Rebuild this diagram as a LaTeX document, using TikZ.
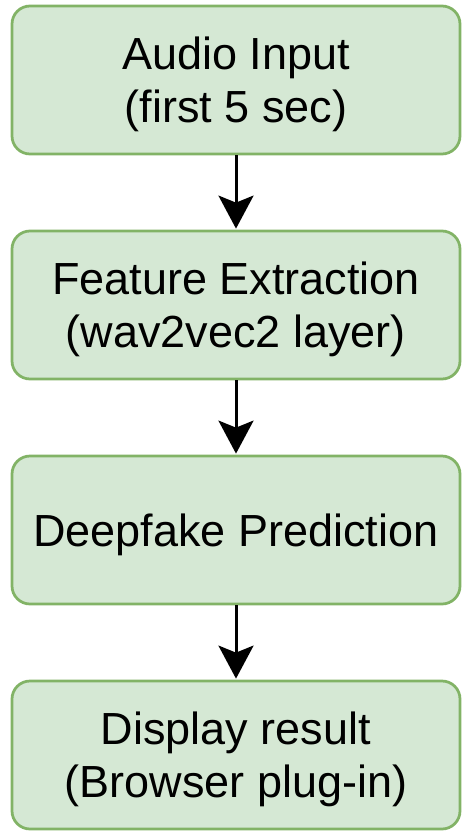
\documentclass[tikz,border=0pt]{standalone}
\usepackage{fontspec}
\setmainfont{Liberation Sans}
\usetikzlibrary{arrows.meta}
\definecolor{boxfill}{HTML}{D5E8D4}
\definecolor{boxline}{HTML}{82B366}
\tikzset{
  stepbox/.style={draw=boxline, fill=boxfill, line width=2.75pt, rounded corners=18pt,
    minimum width=448pt, minimum height=148pt, align=center, inner sep=0pt, text depth=0pt,
    font=\fontsize{45pt}{53pt}\selectfont},
  flow/.style={line width=3pt, -{Stealth[length=33pt,width=35pt,inset=7pt]}, shorten >=1pt}
}
\begin{document}
\begin{tikzpicture}[x=1pt,y=-1pt]
\useasboundingbox (0,0) rectangle (464,833);
\node[stepbox] (a) at (236,80) {Audio Input\\(first 5 sec)};
\node[stepbox] (b) at (236,305) {Feature Extraction\\(wav2vec2 layer)};
\node[stepbox] (c) at (236,530) {Deepfake Prediction};
\node[stepbox] (d) at (236,755) {Display result\\(Browser plug-in)};
\draw[flow] (a) -- (b);
\draw[flow] (b) -- (c);
\draw[flow] (c) -- (d);
\end{tikzpicture}
\end{document}
